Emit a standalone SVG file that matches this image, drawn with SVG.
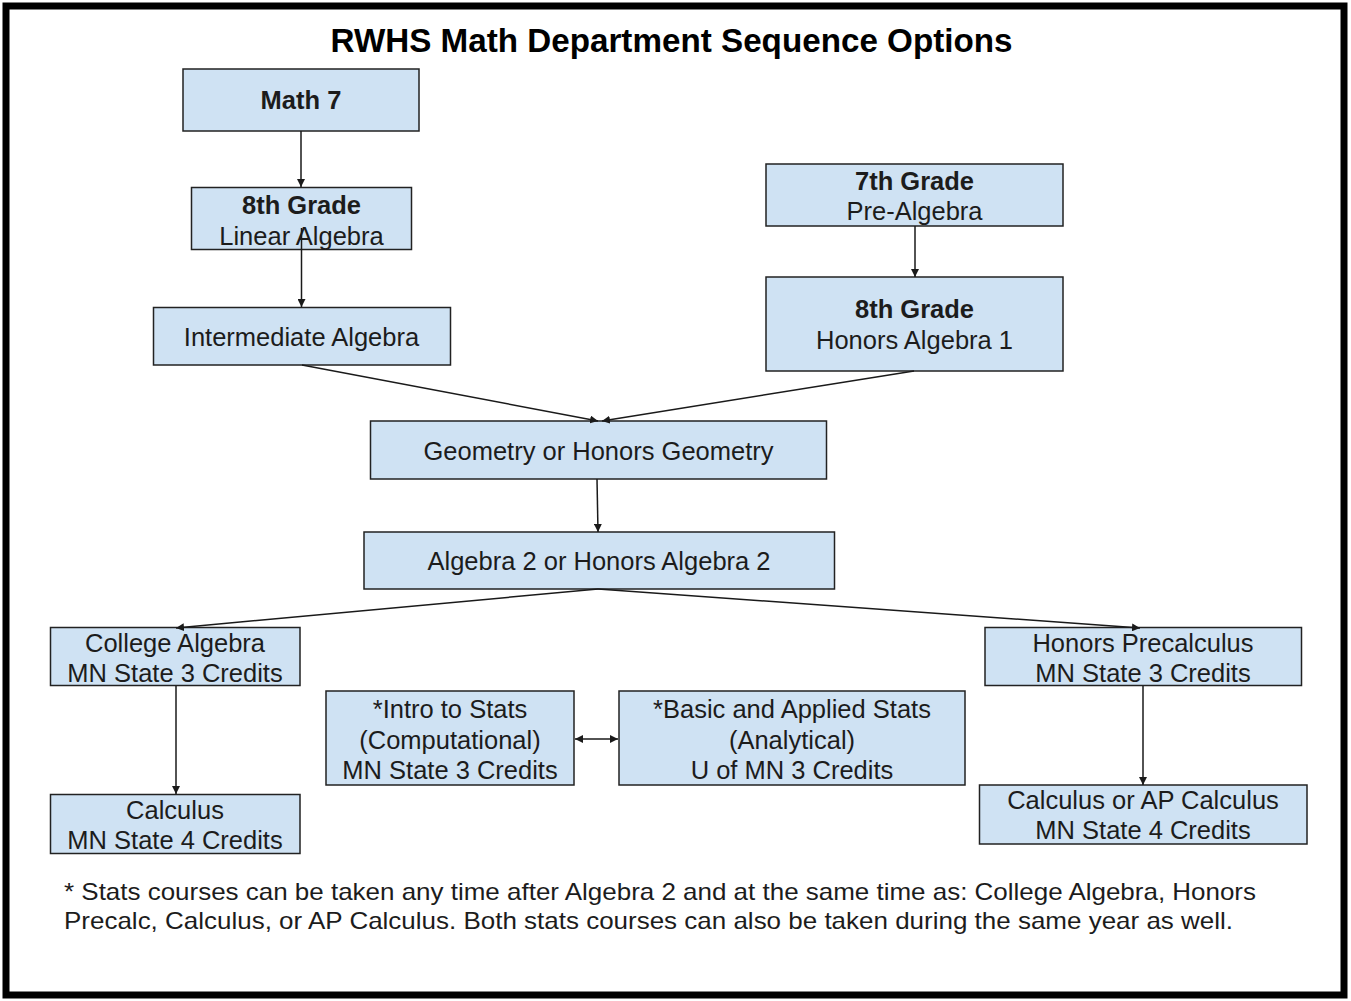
<svg xmlns="http://www.w3.org/2000/svg" width="1351" height="1001" viewBox="0 0 1351 1001">
<defs>
<style>
.box{fill:#cfe2f3;stroke:#222;stroke-width:1.5}
.t{font-family:"Liberation Sans",Arial,sans-serif;font-size:25.5px;fill:#1c1c1c;text-anchor:middle}
.b{font-weight:bold}
.title{font-family:"Liberation Sans",Arial,sans-serif;font-size:33px;font-weight:bold;fill:#000;text-anchor:middle}
.note{font-family:"Liberation Sans",Arial,sans-serif;font-size:24px;fill:#1c1c1c}
.c{fill:none;stroke:#1a1a1a;stroke-width:1.5}
</style>
<marker id="ah" viewBox="0 0 10 10" refX="10" refY="5" markerWidth="8" markerHeight="8" markerUnits="userSpaceOnUse" orient="auto-start-reverse">
<path d="M0,0 L10,5 L0,10 z" fill="#1a1a1a"/>
</marker>
</defs>
<rect width="1351" height="1001" fill="#fff"/>
<rect x="6" y="6" width="1338" height="989" fill="none" stroke="#000" stroke-width="7"/>
<text class="title" x="671.5" y="52" textLength="682" lengthAdjust="spacingAndGlyphs">RWHS Math Department Sequence Options</text>

<g id="math7">
<rect class="box" x="183" y="69" width="236" height="62"/>
<text class="t b" x="301" y="109">Math 7</text>
</g>
<g id="grade8-linear">
<rect class="box" x="191.5" y="187.5" width="220" height="62"/>
<text class="t b" x="301.5" y="213.5">8th Grade</text>
<text class="t" x="301.5" y="244.5">Linear Algebra</text>
</g>
<g id="intermediate">
<rect class="box" x="153.5" y="307.5" width="297" height="57.5"/>
<text class="t" x="301.5" y="345.5">Intermediate Algebra</text>
</g>
<g id="grade7-prealg">
<rect class="box" x="766" y="164" width="297" height="62"/>
<text class="t b" x="914.5" y="189.5">7th Grade</text>
<text class="t" x="914.5" y="220">Pre-Algebra</text>
</g>
<g id="grade8-honors">
<rect class="box" x="766" y="277" width="297" height="94"/>
<text class="t b" x="914.5" y="318">8th Grade</text>
<text class="t" x="914.5" y="349">Honors Algebra 1</text>
</g>
<g id="geometry">
<rect class="box" x="370.5" y="421" width="456" height="58"/>
<text class="t" x="598.5" y="460">Geometry or Honors Geometry</text>
</g>
<g id="algebra2">
<rect class="box" x="364" y="532" width="470.5" height="57"/>
<text class="t" x="599" y="570">Algebra 2 or Honors Algebra 2</text>
</g>
<g id="college-algebra">
<rect class="box" x="50.5" y="627.5" width="249.5" height="58"/>
<text class="t" x="175" y="651.5">College Algebra</text>
<text class="t" x="175" y="682">MN State 3 Credits</text>
</g>
<g id="calculus">
<rect class="box" x="50.5" y="794.5" width="249.5" height="59"/>
<text class="t" x="175" y="818.5">Calculus</text>
<text class="t" x="175" y="848.5">MN State 4 Credits</text>
</g>
<g id="intro-stats">
<rect class="box" x="326" y="691" width="248" height="94"/>
<text class="t" x="450" y="718">*Intro to Stats</text>
<text class="t" x="450" y="748.5">(Computational)</text>
<text class="t" x="450" y="778.5">MN State 3 Credits</text>
</g>
<g id="basic-stats">
<rect class="box" x="619" y="691" width="346" height="94"/>
<text class="t" x="792" y="718">*Basic and Applied Stats</text>
<text class="t" x="792" y="748.5">(Analytical)</text>
<text class="t" x="792" y="778.5">U of MN 3 Credits</text>
</g>
<g id="honors-precalc">
<rect class="box" x="985" y="627.5" width="316.5" height="58"/>
<text class="t" x="1143" y="651.5">Honors Precalculus</text>
<text class="t" x="1143" y="682">MN State 3 Credits</text>
</g>
<g id="calc-ap">
<rect class="box" x="979.5" y="785" width="327.5" height="59"/>
<text class="t" x="1143" y="809">Calculus or AP Calculus</text>
<text class="t" x="1143" y="839">MN State 4 Credits</text>
</g>

<g id="connectors">
<path class="c" d="M301,131 L301,187" marker-end="url(#ah)"/>
<path class="c" d="M301.5,228 L301.5,307" marker-end="url(#ah)"/>
<path class="c" d="M915,226 L915,277" marker-end="url(#ah)"/>
<path class="c" d="M302,365 L598,421" marker-end="url(#ah)"/>
<path class="c" d="M914,371 L602,421" marker-end="url(#ah)"/>
<path class="c" d="M597,479 L598,532" marker-end="url(#ah)"/>
<path class="c" d="M598,589 L176,628" marker-end="url(#ah)"/>
<path class="c" d="M598,589 L1140,628" marker-end="url(#ah)"/>
<path class="c" d="M176,686 L176,794" marker-end="url(#ah)"/>
<path class="c" d="M1143,686 L1143,785" marker-end="url(#ah)"/>
<path class="c" d="M575,739 L618,739" marker-start="url(#ah)" marker-end="url(#ah)"/>
</g>

<g id="footnote">
<text class="note" x="64" y="900" textLength="1192" lengthAdjust="spacingAndGlyphs">* Stats courses can be taken any time after Algebra 2 and at the same time as: College Algebra, Honors</text>
<text class="note" x="64" y="929" textLength="1169" lengthAdjust="spacingAndGlyphs">Precalc, Calculus, or AP Calculus. Both stats courses can also be taken during the same year as well.</text>
</g>
</svg>
